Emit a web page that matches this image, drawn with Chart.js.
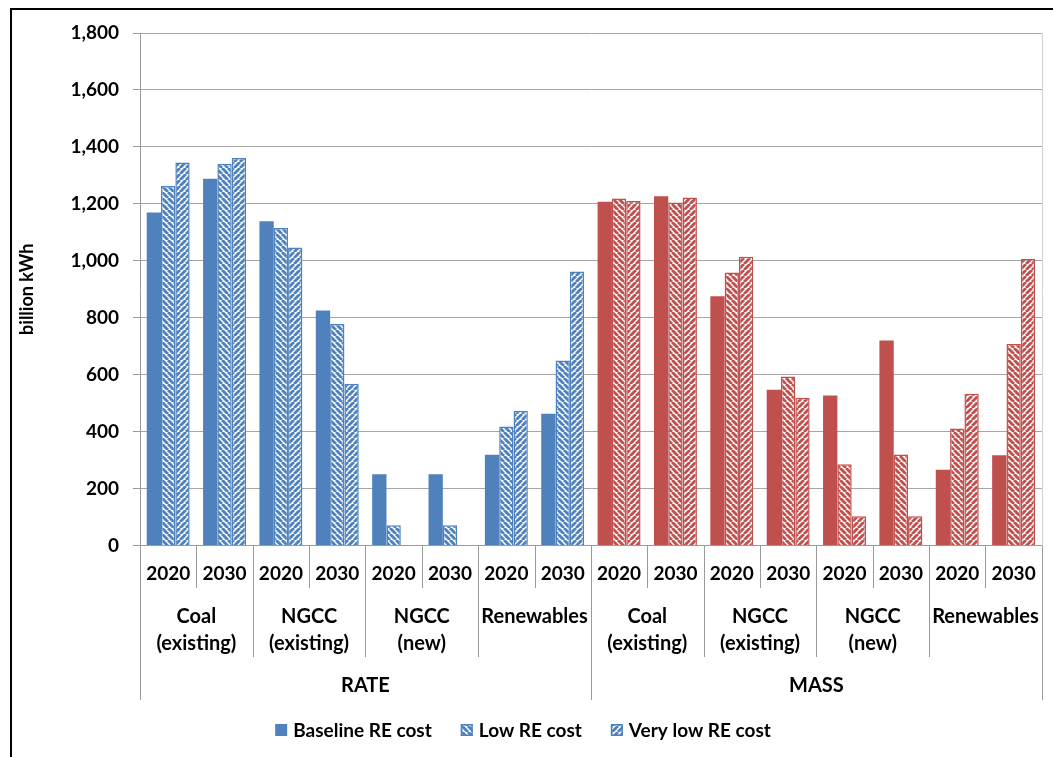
<!DOCTYPE html>
<html>
<head>
<meta charset="utf-8">
<script src="https://cdn.jsdelivr.net/npm/chart.js@4/dist/chart.umd.min.js"></script>
<style>
  html, body { margin: 0; padding: 0; background: #ffffff; }
  #wrap { width: 1053px; height: 757px; position: relative; }
</style>
</head>
<body>
<div id="wrap"><canvas id="chart" width="1053" height="757"></canvas></div>
<script>
// ---- data ----
const policies = ['RATE', 'MASS'];
const technologies = [['Coal', '(existing)'], ['NGCC', '(existing)'], ['NGCC', '(new)'], ['Renewables']];
const years = ['2020', '2030'];
const seriesNames = ['Baseline RE cost', 'Low RE cost', 'Very low RE cost'];

// billion kWh, ordered RATE then MASS; per technology 2020, 2030
const baselineRE = [1170, 1288, 1139, 825, 250, 250, 319, 463, 1207, 1227, 875, 547, 527, 720, 266, 317];
const lowRE      = [1263, 1341, 1115, 778,  71,  71, 418, 650, 1219, 1205, 959, 594, 285, 320, 411, 708];
const veryLowRE  = [1345, 1361, 1047, 568,   0,   0, 473, 962, 1210, 1222, 1014, 519, 103, 103, 533, 1006];

const yMin = 0, yMax = 1800, yStep = 200;
const policyColors = ['#4F81BD', '#C0504D'];

// ---- helpers ----
const FONT = 'Lato';
const perPolicy = technologies.length * years.length;

const categories = [];
policies.forEach(() => technologies.forEach(() => years.forEach(y => categories.push(y))));
const pointColors = categories.map((_, i) => policyColors[Math.floor(i / perPolicy)]);

function hatch(color, dir) {
  const s = 6;
  const c = document.createElement('canvas');
  c.width = s; c.height = s;
  const g = c.getContext('2d');
  g.fillStyle = '#ffffff';
  g.fillRect(0, 0, s, s);
  g.strokeStyle = color;
  g.lineWidth = 2.9;
  g.beginPath();
  for (let k = -1; k <= 1; k++) {
    if (dir === 'down') {         // "\" stripes
      g.moveTo(k * s, 0); g.lineTo(k * s + s, s);
      g.moveTo(k * s - s, 0); g.lineTo(k * s, s);
    } else {                      // "/" stripes
      g.moveTo(k * s, s); g.lineTo(k * s + s, 0);
      g.moveTo(k * s + s, s); g.lineTo(k * s + 2 * s, 0);
    }
  }
  g.stroke();
  return g.createPattern(c, 'repeat');
}

function draw() {
  const ctxEl = document.getElementById('chart');
  const ctx = ctxEl.getContext('2d');
  const downPatterns = pointColors.map(c => hatch(c, 'down'));
  const upPatterns = pointColors.map(c => hatch(c, 'up'));

  const legendStyles = [
    { fill: policyColors[0], stroke: null },
    { fill: hatch(policyColors[0], 'down'), stroke: policyColors[0] },
    { fill: hatch(policyColors[0], 'up'), stroke: policyColors[0] }
  ];

  const decorations = {
    id: 'decorations',
    afterDraw(chart) {
      const c = chart.ctx;
      const x = chart.scales.x;
      const area = chart.chartArea;
      const axisY = area.bottom;
      c.save();

      // outer frame (top and left edges)
      c.fillStyle = '#000000';
      c.fillRect(10, 8, chart.width - 10, 2);
      c.fillRect(10, 8, 2, chart.height - 8);

      // right edge of plot area
      c.strokeStyle = '#D0D0D0';
      c.lineWidth = 1;
      c.beginPath();
      c.moveTo(Math.round(area.right) + 0.5, area.top);
      c.lineTo(Math.round(area.right) + 0.5, axisY);
      c.stroke();

      // category separators below the axis
      c.strokeStyle = '#9A9A9A';
      const n = categories.length;
      for (let i = 0; i <= n; i++) {
        const px = Math.round(x.getPixelForValue(i - 0.5)) + 0.5;
        let end = 588;
        if (i % perPolicy === 0) end = 700;
        else if (i % years.length === 0) end = 657;
        c.beginPath();
        c.moveTo(px, axisY);
        c.lineTo(px, end);
        c.stroke();
      }

      // technology and policy labels
      c.fillStyle = '#000000';
      c.textAlign = 'center';
      c.textBaseline = 'middle';
      c.font = 'bold 20px ' + FONT;
      policies.forEach((p, pi) => {
        technologies.forEach((lines, ti) => {
          const start = pi * perPolicy + ti * years.length;
          const cx = x.getPixelForValue(start + (years.length - 1) / 2);
          lines.forEach((t, li) => c.fillText(t, cx, 617 + li * 27));
        });
        const px = x.getPixelForValue(pi * perPolicy + (perPolicy - 1) / 2);
        c.fillText(p, px, 686);
      });

      // legend
      c.font = 'bold 19px ' + FONT;
      c.textAlign = 'left';
      const box = 12, gapText = 6, gapItem = 29;
      const widths = seriesNames.map(s => c.measureText(s).width);
      const total = widths.reduce((a, w) => a + box + gapText + w, 0) + gapItem * (seriesNames.length - 1);
      let lx = 523 - total / 2;
      const ly = 730;
      seriesNames.forEach((name, i) => {
        const st = legendStyles[i];
        c.fillStyle = st.fill;
        c.fillRect(lx, ly - box / 2, box, box);
        if (st.stroke) {
          c.strokeStyle = st.stroke;
          c.lineWidth = 1.5;
          c.strokeRect(lx + 0.75, ly - box / 2 + 0.75, box - 1.5, box - 1.5);
        }
        c.fillStyle = '#000000';
        c.fillText(name, lx + box + gapText, ly + 1);
        lx += box + gapText + widths[i] + gapItem;
      });
      c.restore();
    }
  };

  new Chart(ctx, {
    type: 'bar',
    data: {
      labels: categories,
      datasets: [
        { label: seriesNames[0], data: baselineRE, backgroundColor: pointColors, borderWidth: 0 },
        { label: seriesNames[1], data: lowRE, backgroundColor: downPatterns, borderColor: pointColors, borderWidth: 1.5 },
        { label: seriesNames[2], data: veryLowRE, backgroundColor: upPatterns, borderColor: pointColors, borderWidth: 1.5 }
      ]
    },
    options: {
      responsive: false,
      animation: false,
      devicePixelRatio: 1,
      datasets: { bar: { categoryPercentage: 0.762, barPercentage: 1.0 } },
      layout: { padding: { left: 12, right: 11, top: 33, bottom: 56.5 } },
      plugins: { legend: { display: false }, tooltip: { enabled: false } },
      scales: {
        x: {
          offset: true,
          grid: { display: false, drawTicks: false },
          border: { display: true, color: '#9A9A9A', width: 1 },
          ticks: {
            autoSkip: false, maxRotation: 0, minRotation: 0, padding: 17,
            color: '#000000', font: { family: FONT, size: 19, weight: 'bold' }
          },
          afterFit(scale) { scale.height = 155; }
        },
        y: {
          min: yMin, max: yMax,
          grid: { color: '#A6A6A6', lineWidth: 1, tickLength: 7, tickColor: '#9A9A9A' },
          border: { display: true, color: '#9A9A9A', width: 1 },
          ticks: {
            stepSize: yStep, padding: 14, color: '#000000',
            font: { family: FONT, size: 19, weight: 'bold' },
            callback: v => Number(v).toLocaleString('en-US')
          },
          title: {
            display: true, text: 'billion kWh', color: '#000000',
            font: { family: FONT, size: 18, weight: 'bold' },
            padding: { top: 4, bottom: 0 }
          },
          afterFit(scale) { scale.width = 128; }
        }
      }
    },
    plugins: [decorations]
  });
}

if (document.fonts && document.fonts.load) {
  Promise.all([
    document.fonts.load('bold 19px ' + FONT),
    document.fonts.load('bold 18px ' + FONT),
    document.fonts.load('bold 20px ' + FONT)
  ]).then(draw, draw);
} else {
  draw();
}
</script>
</body>
</html>
